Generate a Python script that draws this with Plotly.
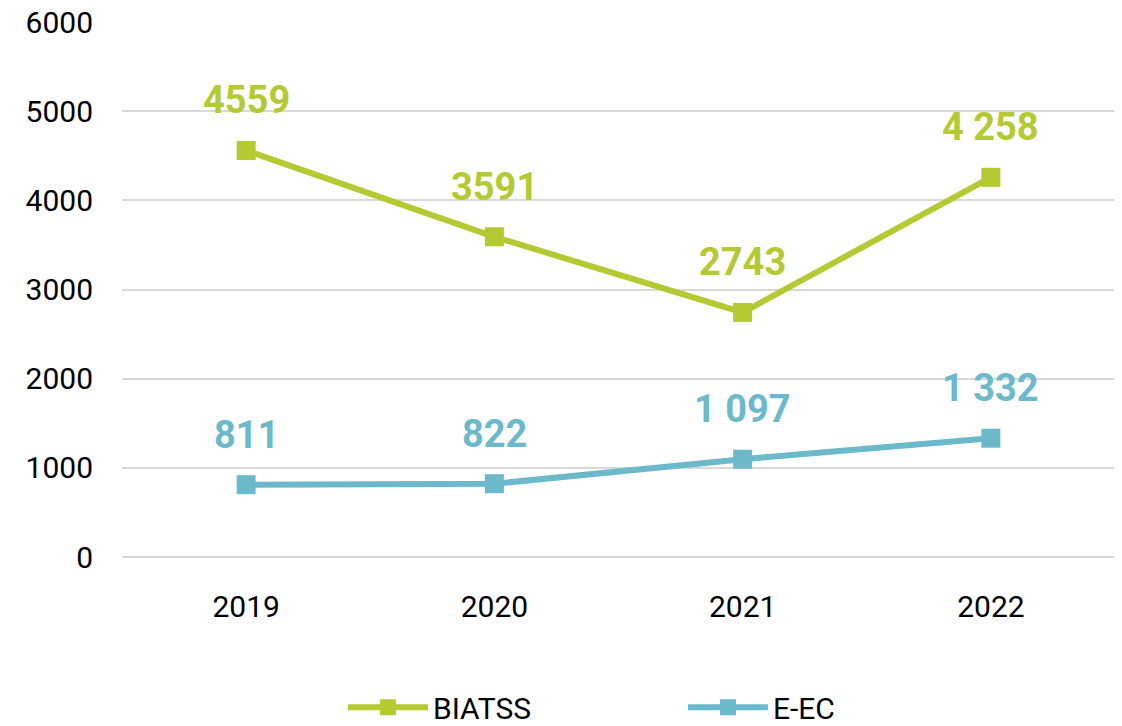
import plotly.graph_objects as go

# Chart data
years = ["2019", "2020", "2021", "2022"]
biatss = [4559, 3591, 2743, 4258]
biatss_labels = ["4559", "3591", "2743", "4 258"]
eec = [811, 822, 1097, 1332]
eec_labels = ["811", "822", "1 097", "1 332"]

GREEN = "#B5C932"
BLUE = "#6CB9CC"
FONT = "Roboto, Open Sans, sans-serif"

fig = go.Figure()

for name, values, labels, color in [
    ("BIATSS", biatss, biatss_labels, GREEN),
    ("E-EC", eec, eec_labels, BLUE),
]:
    fig.add_trace(
        go.Scatter(
            x=years,
            y=values,
            name=name,
            mode="lines+markers",
            line=dict(color=color, width=6),
            marker=dict(symbol="square", size=19, color=color),
        )
    )
    # Data labels above each point (category index on x)
    for i, (y, t) in enumerate(zip(values, labels)):
        fig.add_annotation(
            x=i,
            y=y,
            text=f"<b>{t}</b>",
            showarrow=False,
            yshift=50,
            font=dict(size=38, color=color, family=FONT),
        )

fig.update_layout(
    width=1122,
    height=726,
    margin=dict(l=114, r=15, t=14, b=177, autoexpand=False),
    plot_bgcolor="white",
    paper_bgcolor="white",
    font=dict(family=FONT, size=30, color="#000000"),
    showlegend=True,
    legend=dict(
        orientation="h",
        x=0.2225,
        xanchor="left",
        yref="container",
        y=0.037,
        yanchor="middle",
        font=dict(size=30),
        itemwidth=80,
        entrywidth=245,
    ),
    xaxis=dict(
        type="category",
        range=[-0.5, 3.5],
        showgrid=False,
        showline=False,
        zeroline=False,
        automargin=False,
        ticklabelstandoff=29,
    ),
    yaxis=dict(
        range=[0, 6000],
        tickvals=[0, 1000, 2000, 3000, 4000, 5000, 6000],
        showgrid=True,
        gridcolor="#D9D9D9",
        gridwidth=2,
        zeroline=True,
        zerolinecolor="#D9D9D9",
        zerolinewidth=2,
        showline=False,
        automargin=False,
        ticklabelstandoff=28,
        ticklabeloverflow="allow",
    ),
)

fig.write_html("out.html")
